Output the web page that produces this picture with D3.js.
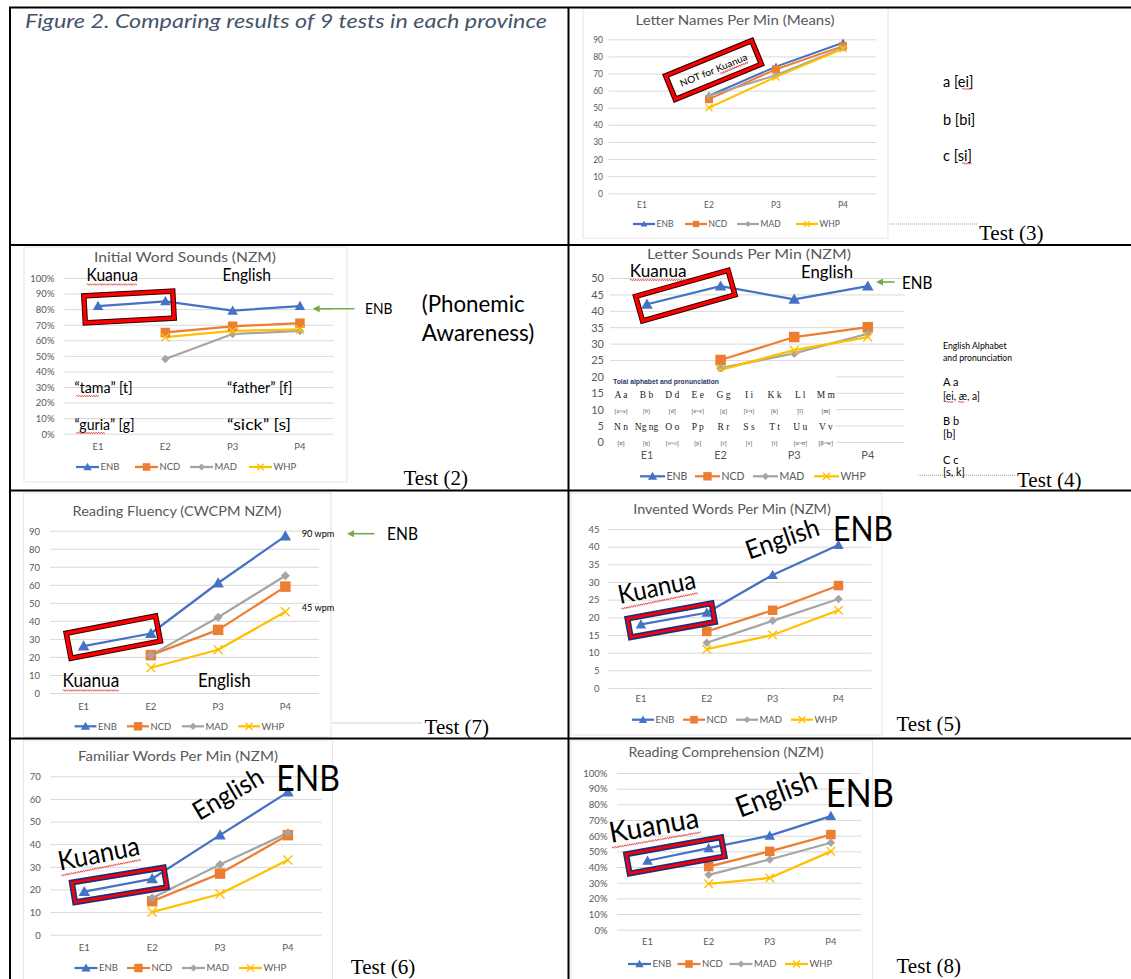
<!DOCTYPE html>
<html><head><meta charset="utf-8">
<script src="https://cdn.jsdelivr.net/npm/d3@7"></script>
<style>body{margin:0;background:#fff}svg{display:block}</style>
</head><body>
<svg id="c" width="1131" height="979"></svg>
<script>
// ---------- DATA ----------
const grades = ["E1", "E2", "P3", "P4"];
const provinces = ["ENB", "NCD", "MAD", "WHP"];

// Test (3) Letter Names Per Min (Means)
const letterNamesENB = [null, 57, 74, 88];
const letterNamesNCD = [null, 55, 72.5, 86];
const letterNamesMAD = [null, 57, 69, 85];
const letterNamesWHP = [null, 50, 68, 84.5];
const letterNamesTicks = [0, 10, 20, 30, 40, 50, 60, 70, 80, 90];

// Test (2) Initial Word Sounds (NZM), percent
const initialSoundsENB = [82, 85, 79, 82];
const initialSoundsNCD = [null, 65, 69, 71];
const initialSoundsMAD = [null, 48, 64, 66];
const initialSoundsWHP = [null, 62, 66, 67];
const percentTicks = [0, 10, 20, 30, 40, 50, 60, 70, 80, 90, 100];

// Test (4) Letter Sounds Per Min (NZM)
const letterSoundsENB = [42, 47.5, 43.5, 47.5];
const letterSoundsNCD = [null, 25, 32, 35];
const letterSoundsMAD = [null, 22.5, 27, 33];
const letterSoundsWHP = [null, 22, 28, 32];
const letterSoundsTicks = [0, 5, 10, 15, 20, 25, 30, 35, 40, 45, 50];

// Test (7) Reading Fluency (CWCPM NZM)
const fluencyENB = [26, 33, 61, 87];
const fluencyNCD = [null, 21, 35, 59];
const fluencyMAD = [null, 21, 42, 65];
const fluencyWHP = [null, 14, 24, 45];
const fluencyTicks = [0, 10, 20, 30, 40, 50, 60, 70, 80, 90];

// Test (5) Invented Words Per Min (NZM)
const inventedENB = [18, 21.3, 32, 40.5];
const inventedNCD = [null, 16, 22, 29];
const inventedMAD = [null, 12.8, 19, 25.2];
const inventedWHP = [null, 11, 15, 22];
const inventedTicks = [0, 5, 10, 15, 20, 25, 30, 35, 40, 45];

// Test (6) Familiar Words Per Min (NZM)
const familiarENB = [19, 24.7, 44, 63];
const familiarNCD = [null, 14.8, 27, 44];
const familiarMAD = [null, 16.2, 31, 45];
const familiarWHP = [null, 10, 18, 33];
const familiarTicks = [0, 10, 20, 30, 40, 50, 60, 70];

// Test (8) Reading Comprehension (NZM), percent
const comprehensionENB = [44, 52, 60, 72.5];
const comprehensionNCD = [null, 40.3, 50, 60.7];
const comprehensionMAD = [null, 35, 44.8, 55.5];
const comprehensionWHP = [null, 29.3, 33, 50];

// Tolai alphabet insert
const tolaiLetters1 = ["A a", "B b", "D d", "E e", "G g", "I i", "K k", "L l", "M m"];
const tolaiSounds1 = ["[a~ʌ]", "[b]", "[d]", "[e~ɛ]", "[g]", "[i~ɪ]", "[k]", "[l]", "[m]"];
const tolaiLetters2 = ["N n", "Ng ng", "O o", "P p", "R r", "S s", "T t", "U u", "V v"];
const tolaiSounds2 = ["[n]", "[ŋ]", "[o~ɔ]", "[p]", "[r]", "[s]", "[t]", "[u~ʊ]", "[β~w]"];

// ---------- STYLE ----------
const colors = ["#4472c4", "#ed7d31", "#a5a5a5", "#ffc000"];
const markerTypes = ["tri", "sq", "dia", "x"];
const SANS = "Lato, 'Noto Sans', sans-serif";
const SERIF = "'Liberation Serif', 'DejaVu Serif', serif";
const svg = d3.select("#c");

function drawMarker(g, t, cx, cy, w, color) {
  const h = w / 2;
  if (t === "x") {
    g.append("path").attr("d", `M${cx-h},${cy-h}L${cx+h},${cy+h}M${cx-h},${cy+h}L${cx+h},${cy-h}`)
      .attr("stroke", color).attr("stroke-width", 1.4).attr("fill", "none");
    return;
  }
  let d;
  if (t === "tri") d = `M${cx},${cy-h*1.05}L${cx+h*1.05},${cy+h*0.8}L${cx-h*1.05},${cy+h*0.8}Z`;
  else if (t === "sq") d = `M${cx-h},${cy-h}h${w}v${w}h${-w}Z`;
  else d = `M${cx},${cy-h}L${cx+h},${cy}L${cx},${cy+h}L${cx-h},${cy}Z`;
  g.append("path").attr("d", d).attr("fill", color);
}

function chart(p) {
  const g = svg.append("g");
  if (p.frame) {
    g.append("rect").attr("x", p.frame[0]).attr("y", p.frame[1])
      .attr("width", p.frame[2] - p.frame[0]).attr("height", p.frame[3] - p.frame[1])
      .attr("fill", "#fff").attr("stroke", "#e4e4e4");
  }
  const x = d3.scaleBand().domain(grades).range([p.px0, p.px1]);
  const y = d3.scaleLinear().domain(d3.extent(p.ticks)).range([p.pyBottom, p.pyTop]);

  // title
  g.append("text").attr("x", p.tx).attr("y", p.ty).attr("text-anchor", "middle")
    .attr("font-family", SANS).attr("font-size", p.tfs || 14).attr("fill", "#595959")
    .attr("textLength", p.tw).attr("lengthAdjust", "spacingAndGlyphs").text(p.title);

  // gridlines
  const grid = g.append("g").attr("transform", `translate(${p.px0},0)`)
    .call(d3.axisLeft(y).tickValues(p.ticks).tickSize(-(p.px1 - p.px0)).tickFormat(""));
  grid.select(".domain").remove();
  grid.selectAll("line").attr("stroke", "#d9d9d9").attr("stroke-width", 1);

  // y labels
  const ya = g.append("g").attr("transform", `translate(${p.labelRight},0)`)
    .call(d3.axisLeft(y).tickValues(p.ticks).tickSize(0).tickPadding(0).tickFormat(p.fmt));
  ya.select(".domain").remove();
  ya.attr("font-family", SANS).attr("font-size", p.fs);
  ya.selectAll("text").attr("fill", "#595959").attr("dy", "0.35em");

  // x labels
  const xa = g.append("g").attr("transform", `translate(0,${p.xLabelY})`)
    .call(d3.axisBottom(x).tickSize(0).tickPadding(0));
  xa.select(".domain").remove();
  xa.attr("font-family", SANS).attr("font-size", p.fs);
  xa.selectAll("text").attr("fill", "#595959").attr("dy", "0.35em");

  // series
  const line = d3.line().defined(d => d.v != null).x(d => x(d.k) + x.bandwidth() / 2).y(d => y(d.v));
  p.data.forEach((vals, i) => {
    const pts = grades.map((k, j) => ({ k, v: vals[j] }));
    g.append("path").datum(pts).attr("d", line).attr("fill", "none")
      .attr("stroke", colors[i]).attr("stroke-width", p.lw || 2.25).attr("stroke-linejoin", "round");
  });
  p.data.forEach((vals, i) => {
    grades.forEach((k, j) => {
      if (vals[j] == null) return;
      drawMarker(g, markerTypes[i], x(k) + x.bandwidth() / 2, y(vals[j]), p.ms[i], colors[i]);
    });
  });

  // legend
  provinces.forEach((name, i) => {
    const lx = p.legendX[i];
    g.append("line").attr("x1", lx).attr("x2", lx + p.legendLen).attr("y1", p.legendY).attr("y2", p.legendY)
      .attr("stroke", colors[i]).attr("stroke-width", 2.25);
    drawMarker(g, markerTypes[i], lx + p.legendLen / 2, p.legendY, p.ms[i] * 0.8, colors[i]);
    g.append("text").attr("x", lx + p.legendLen + 1.5).attr("y", p.legendY).attr("dy", "0.35em")
      .attr("font-family", SANS).attr("font-size", p.lfs || p.fs).attr("fill", "#595959").text(name);
  });
  return g;
}

function box(cx, cy, w, h, ang, outer, ow, iw) {
  const b = svg.append("g").attr("transform", `translate(${cx},${cy}) rotate(${ang})`);
  b.append("rect").attr("x", -w / 2).attr("y", -h / 2).attr("width", w).attr("height", h)
    .attr("fill", "none").attr("stroke", outer).attr("stroke-width", ow);
  b.append("rect").attr("x", -w / 2).attr("y", -h / 2).attr("width", w).attr("height", h)
    .attr("fill", "none").attr("stroke", "#ff0000").attr("stroke-width", iw);
  return b;
}

function squiggle(g, x1, x2, y) {
  let d = `M${x1},${y}`;
  let up = true;
  for (let xx = x1 + 1.2; xx <= x2; xx += 1.2) { d += `L${xx},${y + (up ? -0.8 : 0.8)}`; up = !up; }
  g.append("path").attr("d", d).attr("stroke", "#e02020").attr("stroke-width", 0.7).attr("fill", "none");
}

function txt(x, y, s, size, opts = {}) {
  const t = (opts.g || svg).append("text").attr("x", x).attr("y", y)
    .attr("font-family", opts.family || SANS).attr("font-size", size)
    .attr("fill", opts.fill || "#000").text(s);
  if (opts.len) t.attr("textLength", opts.len).attr("lengthAdjust", "spacingAndGlyphs");
  if (opts.anchor) t.attr("text-anchor", opts.anchor);
  if (opts.weight) t.attr("font-weight", opts.weight);
  if (opts.style) t.attr("font-style", opts.style);
  return t;
}

function rtext(x, y, ang, s, size, len, squig) {
  const g = svg.append("g").attr("transform", `translate(${x},${y}) rotate(${ang})`);
  txt(0, 0, s, size, { g, len });
  if (squig) squiggle(g, 0, len, 5);
}

function arrow(xTail, xHead, y) {
  svg.append("line").attr("x1", xTail).attr("x2", xHead + 5).attr("y1", y).attr("y2", y)
    .attr("stroke", "#70ad47").attr("stroke-width", 1.6);
  svg.append("path").attr("d", `M${xHead},${y}L${xHead+7},${y-3.5}L${xHead+7},${y+3.5}Z`).attr("fill", "#70ad47");
}

function dotted(x1, x2, y) {
  svg.append("line").attr("x1", x1).attr("x2", x2).attr("y1", y).attr("y2", y)
    .attr("stroke", "#8c8c8c").attr("stroke-width", 0.8).attr("stroke-dasharray", "1,1");
}

function testLabel(x, y, n) {
  txt(x, y, `Test (${n})`, 21, { family: SERIF, len: 64.5 });
}

const pctFmt = d => d + "%";
const numFmt = d => d;

// ---------- FIGURE TITLE ----------
txt(25, 28, "Figure 2. Comparing results of 9 tests in each province", 19,
  { fill: "#44546a", style: "italic", len: 522 });

// ---------- Test (3) ----------
chart({
  data: [letterNamesENB, letterNamesNCD, letterNamesMAD, letterNamesWHP], ticks: letterNamesTicks, fmt: numFmt,
  px0: 608.5, px1: 876.5, pyBottom: 193.3, pyTop: 39.3, labelRight: 603, xLabelY: 205, fs: 8.5,
  title: "Letter Names Per Min (Means)", tx: 735, ty: 24.5, tw: 199, tfs: 13,
  legendX: [633, 685, 737, 796], legendLen: 22, legendY: 224, frame: [583, 8, 888, 238],
  ms: [8, 8, 7.5, 7], lw: 2
});
{
  const b = box(713.5, 70, 93, 25.5, -22.3, "#2a0000", 5.5, 3.2);
  txt(0, 3.5, "NOT for Kuanua", 9.5, { g: b, anchor: "middle", len: 72 });
  squiggle(b, 5, 36, 6);
}
dotted(890, 978, 224);
txt(943, 86.5, "a [ei]", 14.5);
txt(943, 124.5, "b [bi]", 14.5);
txt(943, 161, "c [si]", 14.5);
squiggle(svg, 962, 972, 89);
squiggle(svg, 962, 972, 163.5);
testLabel(979, 240, 3);

// ---------- Test (2) ----------
chart({
  data: [initialSoundsENB, initialSoundsNCD, initialSoundsMAD, initialSoundsWHP], ticks: percentTicks, fmt: pctFmt,
  px0: 64.4, px1: 333.6, pyBottom: 433.7, pyTop: 278, labelRight: 54.5, xLabelY: 447, fs: 9.5,
  title: "Initial Word Sounds (NZM)", tx: 185, ty: 262, tw: 182,
  legendX: [76, 135, 190, 249], legendLen: 23, legendY: 467, frame: [24, 247, 347, 482],
  ms: [10, 9.5, 8.5, 8]
});
box(129, 307, 89, 27, -3.1, "#2a0000", 5.5, 3.5);
txt(86.5, 281.3, "Kuanua", 17, { len: 51.5 });
squiggle(svg, 86.5, 138, 284.5);
txt(222.5, 281.3, "English", 17, { len: 48.5 });
arrow(354.4, 312.6, 308.7);
txt(365, 313.7, "ENB", 16, { len: 27.6 });
txt(421.7, 312, "(Phonemic", 23, { len: 103 });
txt(421.7, 341, "Awareness)", 23, { len: 112.7 });
txt(74.5, 393, "“tama” [t]", 14.5, { len: 58 });
squiggle(svg, 76, 100, 396);
txt(227, 393, "“father” [f]", 14.5, { len: 65.5 });
txt(74.5, 430, "“guria” [g]", 14.5, { len: 60 });
squiggle(svg, 76, 105, 433);
txt(227, 430, "“sick”     [s]", 14.5, { len: 64 });
testLabel(403.5, 485, 2);

// ---------- Test (4) ----------
chart({
  data: [letterSoundsENB, letterSoundsNCD, letterSoundsMAD, letterSoundsWHP], ticks: letterSoundsTicks, fmt: numFmt,
  px0: 610.2, px1: 904.6, pyBottom: 442, pyTop: 278, labelRight: 604, xLabelY: 455, fs: 11,
  title: "Letter Sounds Per Min (NZM)", tx: 749, ty: 259, tw: 204, tfs: 13.5,
  legendX: [640, 695, 753, 814], legendLen: 25, legendY: 476.3, lfs: 10.5,
  ms: [11, 10.5, 9, 9]
});
// Tolai alphabet insert (white picture on top of the chart)
svg.append("rect").attr("x", 607).attr("y", 372).attr("width", 229).attr("height", 77).attr("fill", "#fff");
txt(613, 384, "Tolai alphabet and pronunciation", 7.5,
  { family: "'Liberation Sans', Arial, sans-serif", weight: "bold", fill: "#1f3864", len: 106 });
tolaiLetters1.forEach((s, i) => txt(621 + i * 25.6, 397.5, s, 9.5, { family: SERIF, anchor: "middle", fill: "#222" }));
tolaiSounds1.forEach((s, i) => txt(621 + i * 25.6, 413, s, 6, { family: SERIF, anchor: "middle", fill: "#444" }));
tolaiLetters2.forEach((s, i) => txt(621 + i * 25.6, 430, s, 9.5, { family: SERIF, anchor: "middle", fill: "#222" }));
tolaiSounds2.forEach((s, i) => txt(621 + i * 25.6, 445, s, 6, { family: SERIF, anchor: "middle", fill: "#444" }));

box(685.3, 295.6, 96, 25.5, -15.7, "#2a0000", 5.5, 3.5);
txt(629.8, 277, "Kuanua", 17.5, { len: 56.7 });
squiggle(svg, 629.8, 686.5, 280);
txt(801, 277.5, "English", 17.5, { len: 52 });
arrow(894.7, 876, 282);
txt(902, 288.7, "ENB", 18, { len: 30.5 });
txt(943, 349, "English Alphabet", 9.5, { len: 63.5 });
txt(943, 361, "and pronunciation", 9.5, { len: 69 });
txt(943, 386, "A a", 11);
txt(943, 400, "[ei, æ, a]", 11, { len: 37 });
squiggle(svg, 946, 954, 402);
squiggle(svg, 958, 965, 402);
txt(943, 425, "B b", 11);
txt(943, 438, "[b]", 11);
txt(943, 464, "C c", 11);
dotted(918, 1015, 475.3);
txt(943, 476, "[s, k]", 11);
testLabel(1017, 487, 4);

// ---------- Test (7) ----------
chart({
  data: [fluencyENB, fluencyNCD, fluencyMAD, fluencyWHP], ticks: fluencyTicks, fmt: numFmt,
  px0: 50, px1: 319, pyBottom: 693, pyTop: 530.7, labelRight: 40, xLabelY: 706.3, fs: 9.5,
  title: "Reading Fluency (CWCPM NZM)", tx: 177, ty: 515.5, tw: 209,
  legendX: [74.5, 127, 182, 238], legendLen: 22, legendY: 726.3, frame: [23.6, 493, 331, 737],
  ms: [11, 10.5, 9, 9]
});
box(113.3, 637.2, 91, 25.5, -10.9, "#2a0000", 5.5, 3.5);
txt(301.7, 537, "90 wpm", 9, { len: 32.7 });
txt(301.7, 610.5, "45 wpm", 9, { len: 32.7 });
arrow(374.4, 347, 533.7);
txt(387, 539.5, "ENB", 18, { len: 31 });
txt(62.5, 687, "Kuanua", 18.5, { len: 56.7 });
squiggle(svg, 62.5, 119, 690.5);
txt(198, 687, "English", 18.5, { len: 52.7 });
dotted(332.6, 421.7, 723);
testLabel(424.6, 734, 7);

// ---------- Test (5) ----------
chart({
  data: [inventedENB, inventedNCD, inventedMAD, inventedWHP], ticks: inventedTicks, fmt: numFmt,
  px0: 608, px1: 871.4, pyBottom: 688, pyTop: 529, labelRight: 599.6, xLabelY: 699, fs: 9.5,
  title: "Invented Words Per Min (NZM)", tx: 732, ty: 513.5, tw: 197.5,
  legendX: [632, 683, 736, 791], legendLen: 22, legendY: 719.7, frame: [571, 493, 882, 735],
  ms: [10, 9.5, 8.5, 8.5]
});
box(671.2, 620.3, 85.5, 19, -10.3, "#1f2f7a", 6, 2.6);
rtext(620.1, 604, -11.7, "Kuanua", 26, 78.7, true);
rtext(749.3, 559.7, -19.2, "English", 26, 76);
txt(833, 541.3, "ENB", 34, { len: 60 });
testLabel(896.5, 731, 5);

// ---------- Test (6) ----------
chart({
  data: [familiarENB, familiarNCD, familiarMAD, familiarWHP], ticks: familiarTicks, fmt: numFmt,
  px0: 50.4, px1: 321.8, pyBottom: 934.7, pyTop: 776.3, labelRight: 40.7, xLabelY: 947.3, fs: 9.5,
  title: "Familiar Words Per Min (NZM)", tx: 178, ty: 761, tw: 200,
  legendX: [74.5, 127, 182, 239], legendLen: 23, legendY: 968, frame: [23.6, 740, 332.6, 985],
  ms: [11, 10.5, 9, 9]
});
box(119.4, 884.9, 93, 20, -9.3, "#1f2f7a", 6, 2.6);
rtext(60, 870.7, -11.2, "Kuanua", 27, 82.6, true);
rtext(199.2, 821.3, -30.5, "English", 26, 77);
txt(276.3, 791.3, "ENB", 36, { len: 63.6 });
testLabel(350.8, 973.5, 6);

// ---------- Test (8) ----------
chart({
  data: [comprehensionENB, comprehensionNCD, comprehensionMAD, comprehensionWHP], ticks: percentTicks, fmt: pctFmt,
  px0: 617, px1: 861.4, pyBottom: 929.7, pyTop: 773, labelRight: 607.5, xLabelY: 942, fs: 9.5,
  title: "Reading Comprehension  (NZM)", tx: 726, ty: 757, tw: 195,
  legendX: [628, 677.5, 729.5, 785], legendLen: 23, legendY: 964, frame: [571, 740, 872.4, 985],
  ms: [10, 9.5, 8.5, 8.5]
});
box(675.4, 855.3, 96.5, 19.5, -10.2, "#1f2f7a", 6, 2.6);
rtext(611.1, 843, -10, "Kuanua", 29, 90.4, true);
rtext(740.3, 818, -20.8, "English", 29, 84.5);
txt(825.8, 807.3, "ENB", 38, { len: 68.2 });
testLabel(896.5, 973, 8);

// ---------- TABLE BORDERS ----------
const borders = svg.append("g").attr("stroke", "#000").attr("stroke-width", 2);
borders.append("line").attr("x1", 9).attr("x2", 1131).attr("y1", 7.5).attr("y2", 7.5);
borders.append("line").attr("x1", 10).attr("x2", 10).attr("y1", 7).attr("y2", 979);
borders.append("line").attr("x1", 568.5).attr("x2", 568.5).attr("y1", 7).attr("y2", 979);
[245, 490.5, 738.5].forEach(yy => borders.append("line").attr("x1", 9).attr("x2", 1131).attr("y1", yy).attr("y2", yy));
</script>
</body></html>
